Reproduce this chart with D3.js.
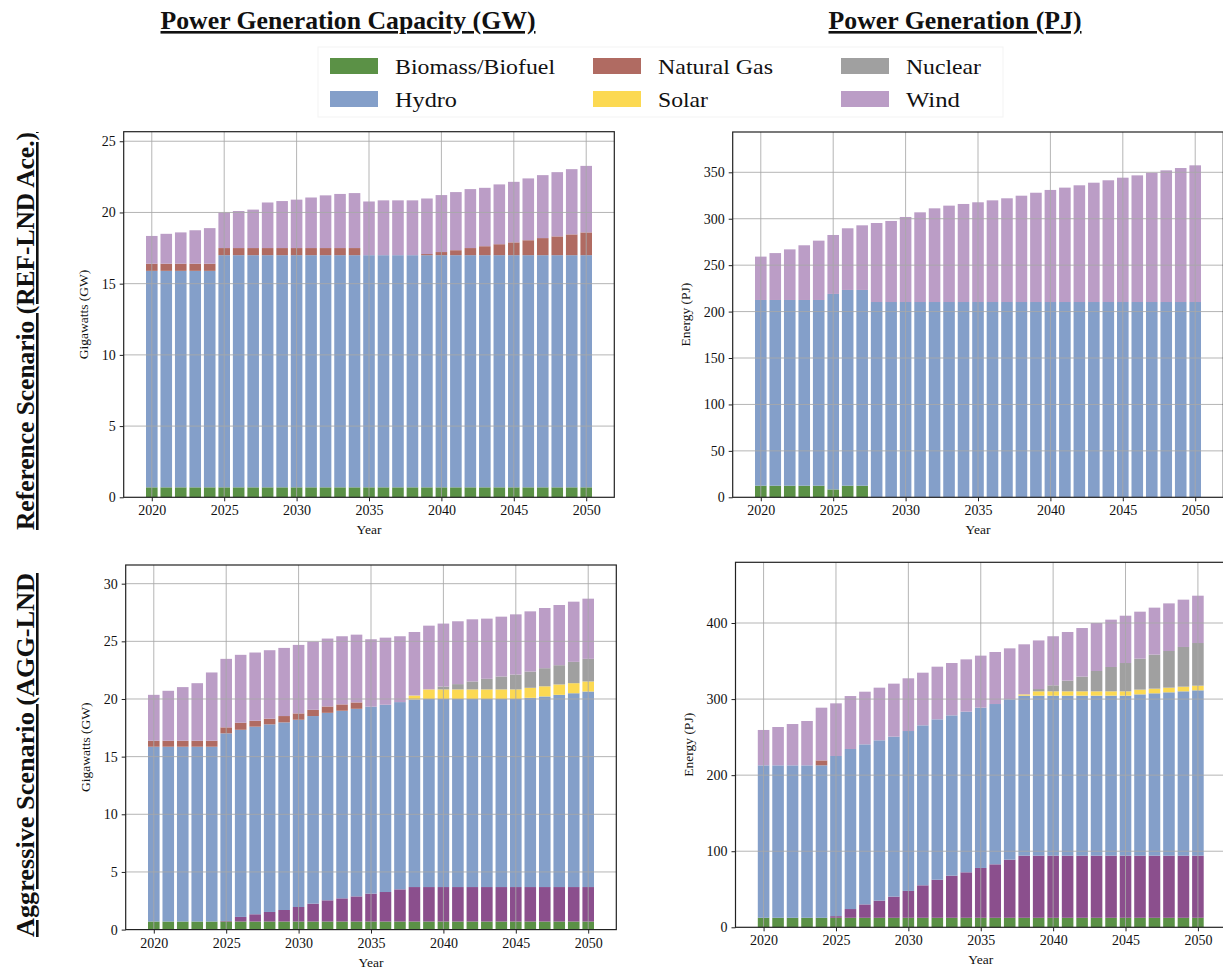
<!DOCTYPE html>
<html>
<head>
<meta charset="utf-8">
<script src="https://cdn.jsdelivr.net/npm/d3@7/dist/d3.min.js"></script>
<style>
  body { margin: 0; background: #fff; }
  svg text { font-family: "Liberation Serif", "Times New Roman", serif; fill: #111; }
  .tick text { font-size: 14px; }
  .axis path, .axis line { stroke: #222; }
  .grid line { stroke: #a9a9a9; stroke-width: 1; }
  .axisLabel { font-size: 13.5px; }
  .title { font-size: 26px; font-weight: bold; text-decoration: underline; }
  .legend-text { font-size: 22px; }
</style>
</head>
<body>
<div id="chart"></div>
<script>
// Stacked bars, 2 scenarios x (capacity GW, generation PJ), years 2020-2050

const years = d3.range(2020, 2051);
const seriesKeys = ["Biomass", "Other", "Hydro", "Gas", "Solar", "Nuclear", "Wind"];
const legendNames = ["Biomass/Biofuel", "Natural Gas", "Nuclear", "Hydro", "Solar", "Wind"];
const legendKeys  = ["Biomass", "Gas", "Nuclear", "Hydro", "Solar", "Wind"];
const colors = {
  Biomass: "#5b9146", Other: "#8b4f8d", Hydro: "#849fc9", Gas: "#b06b62",
  Solar: "#fcd952", Nuclear: "#a0a0a0", Wind: "#bb9dc6"
};

const zeros = n => Array(n).fill(0);

// ---- Reference scenario, capacity (GW)
const refGW_biomass = Array(31).fill(0.7);
const refGW_other   = zeros(31);
const refGW_hydro   = [...Array(5).fill(15.2), ...Array(26).fill(16.3)];
const refGW_gas     = [0.5,0.5,0.5,0.5,0.5, 0.5,0.5,0.5,0.5,0.5,0.5,0.5,0.5,0.5,0.5,
                       0,0,0,0, 0.08,0.22,0.35,0.5,0.63,0.77,0.9,1.05,1.2,1.32,1.46,1.6];
const refGW_solar   = zeros(31);
const refGW_nuclear = zeros(31);
const refGW_wind    = [1.95,2.1,2.2,2.35,2.5, 2.5,2.6,2.7,3.2,3.3,3.4,3.55,3.7,3.8,3.86,
                       3.77,3.85,3.85,3.85, 3.9,4.0,4.08,4.14,4.1,4.2,4.25,4.34,4.42,4.51,4.58,4.67];

// ---- Reference scenario, generation (PJ)
const refPJ_biomass = [12.5,12.5,12.5,12.5,12.5, 8.5,12.5,12.5, ...zeros(23)];
const refPJ_other   = zeros(31);
const refPJ_hydro   = [200,200,200,200,200, 210.5,210.8,210.8, ...Array(23).fill(210.3)];
const refPJ_gas     = zeros(31);
const refPJ_solar   = zeros(31);
const refPJ_nuclear = zeros(31);
const refPJ_wind    = [46.7,50.5,54.5,58.9,63.9,63.5,66.4,69.6,85.1,87.3,91.6,96.6,100.9,103.8,105.6,
                       107.4,109.5,111.7,114.5,117.7,120.7,123.2,125.7,128.5,131.1,133.9,136.4,139.3,141.8,144.3,147.2];

// ---- Aggressive scenario, capacity (GW)
const aggGW_biomass = Array(31).fill(0.7);
const aggGW_other   = [0,0,0,0,0, 0.05,0.4,0.63,0.83,1.0,1.26,1.55,1.84,2.01,2.18,
                       2.42,2.56,2.79, ...Array(13).fill(2.99)];
const aggGW_hydro   = [15.16,15.16,15.16,15.16,15.16, 16.27,16.23,16.27,16.27,16.27,16.24,16.27,16.26,16.27,16.27,
                       16.21,16.24,16.24,16.27, 16.31,16.31,16.31,16.31,16.31,16.31,16.31,16.41,16.53,16.67,16.81,16.96];
const aggGW_gas     = [0.52,0.52,0.52,0.52,0.52, 0.52,0.61,0.51,0.49,0.55,0.55,0.54,0.55,0.55,0.55, ...zeros(16)];
const aggGW_solar   = [...zeros(18), 0.34, 0.83,0.83,0.83,0.83,0.83,0.83,0.83, 0.87,0.88,0.9,0.87,0.87];
const aggGW_nuclear = [...zeros(20), 0.25,0.46,0.69,0.92,1.12,1.29,1.41,1.57,1.67,1.85,1.96];
const aggGW_wind    = [3.98,4.33,4.65,4.99,5.92, 5.94,5.89,5.92,5.94,5.91,5.94,5.92,5.89,5.91,5.88,
                       5.85,5.82,5.71,5.51,5.53,5.46,5.45,5.39,5.22,5.19,5.22,5.22,5.22,5.22,5.22,5.22];

// ---- Aggressive scenario, generation (PJ)
const aggPJ_biomass = Array(31).fill(12.5);
const aggPJ_other   = [0,0,0,0,0, 2.2,11.5,17.6,22.5,27.8,35.3,42.7,50,55.4,59.8,
                       65.5,70.3,76.4, ...Array(13).fill(81.7)];
const aggPJ_hydro   = [200.4,200.4,200.4,200.4,200.4, 210.5,210.4,210.4,210.8,210.3,210.2,210.3,210.9,210.7,211.2,
                       210.7,210.7,210.8, 210.3,210.3,210.3,210.3,210.3,210.3,210.3,210.3, 212,213.4,214.7,216,217.3];
const aggPJ_gas     = [0,0,0,0,6.5, ...zeros(26)];
const aggPJ_solar   = [...zeros(18), 1.7, 5.7,5.7,5.7,5.7,5.7,5.7,5.7, 6.2,6.1,6.1,6.1,6.1];
const aggPJ_nuclear = [...zeros(19), 3,7.9,14,19.3,26.7,32,37.2,40.7,44.7,48.2,52.2,56.1];
const aggPJ_wind    = [46.5,50.4,54.3,58.3,69.3, 69.2,69.6,69.2,69.2,69.7,69.3,69.2,69.2,68.8,68.7,
                       68.4,68.4,67,65.8,63.9,64.5,64,63.9,63.1,62.2,62.2,61.8,61.8,62.6,62.2,62.2];

const yTicksGW_ref = [0, 5, 10, 15, 20, 25];
const yTicksPJ_ref = [0, 50, 100, 150, 200, 250, 300, 350];
const yTicksGW_agg = [0, 5, 10, 15, 20, 25, 30];
const yTicksPJ_agg = [0, 100, 200, 300, 400];
const xTicks = [2020, 2025, 2030, 2035, 2040, 2045, 2050];

function toRows(b, o, h, g, s, n, w) {
  return years.map((y, i) => ({
    year: y, Biomass: b[i], Other: o[i], Hydro: h[i], Gas: g[i], Solar: s[i], Nuclear: n[i], Wind: w[i]
  }));
}

const panels = [
  { rows: toRows(refGW_biomass, refGW_other, refGW_hydro, refGW_gas, refGW_solar, refGW_nuclear, refGW_wind),
    box: { left: 123.7, right: 614.3, top: 131.7, bottom: 497.3 }, yMax: 25.67,
    ticks: yTicksGW_ref, yLabel: "Gigawatts (GW)", labelOff: 36 },
  { rows: toRows(refPJ_biomass, refPJ_other, refPJ_hydro, refPJ_gas, refPJ_solar, refPJ_nuclear, refPJ_wind),
    box: { left: 732.7, right: 1223.3, top: 132, bottom: 497.3 }, yMax: 393.4,
    ticks: yTicksPJ_ref, yLabel: "Energy (PJ)", labelOff: 43 },
  { rows: toRows(aggGW_biomass, aggGW_other, aggGW_hydro, aggGW_gas, aggGW_solar, aggGW_nuclear, aggGW_wind),
    box: { left: 125.7, right: 616.3, top: 565, bottom: 929.6 }, yMax: 31.62,
    ticks: yTicksGW_agg, yLabel: "Gigawatts (GW)", labelOff: 36 },
  { rows: toRows(aggPJ_biomass, aggPJ_other, aggPJ_hydro, aggPJ_gas, aggPJ_solar, aggPJ_nuclear, aggPJ_wind),
    box: { left: 735.5, right: 1226, top: 562.3, bottom: 927.3 }, yMax: 479.8,
    ticks: yTicksPJ_agg, yLabel: "Energy (PJ)", labelOff: 43 }
];

const svg = d3.select("#chart").append("svg")
  .attr("width", 1223).attr("height", 970);

const stack = d3.stack().keys(seriesKeys);

panels.forEach(p => {
  const b = p.box;
  const x = d3.scaleLinear().domain([2018.06, 2051.94]).range([b.left, b.right]);
  const y = d3.scaleLinear().domain([0, p.yMax]).range([b.bottom, b.top]);
  const g = svg.append("g");

  // bars
  const layers = stack(p.rows);
  g.selectAll("g.layer").data(layers).join("g")
    .attr("class", "layer")
    .attr("fill", d => colors[d.key])
    .selectAll("rect").data(d => d.filter(v => v[1] - v[0] > 0)).join("rect")
    .attr("x", d => x(d.data.year - 0.4))
    .attr("width", d => x(d.data.year + 0.4) - x(d.data.year - 0.4))
    .attr("y", d => y(d[1]))
    .attr("height", d => y(d[0]) - y(d[1]));

  // grid on top (bars in the original are translucent)
  const grid = g.append("g").attr("class", "grid");
  grid.selectAll("line.h").data(p.ticks).join("line").attr("class", "h")
    .attr("x1", b.left).attr("x2", b.right)
    .attr("y1", d => y(d)).attr("y2", d => y(d))
    .style("opacity", d => d === 0 ? 0 : 0.85);
  grid.selectAll("line.v").data(xTicks).join("line").attr("class", "v")
    .attr("x1", d => x(d)).attr("x2", d => x(d))
    .attr("y1", b.top).attr("y2", b.bottom)
    .style("opacity", 0.85);

  // axes
  g.append("g").attr("class", "axis")
    .attr("transform", `translate(0,${b.bottom})`)
    .call(d3.axisBottom(x).tickValues(xTicks).tickFormat(d3.format("d")).tickSizeOuter(0).tickSize(4).tickPadding(4))
    .call(a => a.select(".domain").remove());
  g.append("g").attr("class", "axis")
    .attr("transform", `translate(${b.left},0)`)
    .call(d3.axisLeft(y).tickValues(p.ticks).tickFormat(d3.format("d")).tickSizeOuter(0).tickSize(4).tickPadding(4))
    .call(a => a.select(".domain").remove());
  g.selectAll(".tick text").style("font-family", "'Liberation Serif', serif").style("font-size", "14px");

  // frame
  g.append("rect")
    .attr("x", b.left).attr("y", b.top)
    .attr("width", b.right - b.left).attr("height", b.bottom - b.top)
    .attr("fill", "none").attr("stroke", "#222").attr("stroke-width", 1.2);

  g.append("text").attr("class", "axisLabel")
    .attr("x", (b.left + b.right) / 2).attr("y", b.bottom + 37)
    .attr("text-anchor", "middle").text("Year");
  g.append("text").attr("class", "axisLabel")
    .attr("transform", `translate(${b.left - p.labelOff},${(b.top + b.bottom) / 2}) rotate(-90)`)
    .attr("text-anchor", "middle").text(p.yLabel);
});

// column titles
svg.append("text").attr("class", "title")
  .attr("x", 348).attr("y", 29).attr("text-anchor", "middle")
  .attr("textLength", 375).attr("lengthAdjust", "spacingAndGlyphs")
  .text("Power Generation Capacity (GW)");
svg.append("text").attr("class", "title")
  .attr("x", 955).attr("y", 29).attr("text-anchor", "middle")
  .attr("textLength", 253).attr("lengthAdjust", "spacingAndGlyphs")
  .text("Power Generation (PJ)");

// row titles
svg.append("text").attr("class", "title")
  .attr("transform", "translate(34,331) rotate(-90)").attr("text-anchor", "middle")
  .attr("textLength", 398).attr("lengthAdjust", "spacingAndGlyphs")
  .text("Reference Scenario (REF-LND Ace.)");
svg.append("text").attr("class", "title")
  .attr("transform", "translate(34,755) rotate(-90)").attr("text-anchor", "middle")
  .attr("textLength", 364).attr("lengthAdjust", "spacingAndGlyphs")
  .text("Aggressive Scenario (AGG-LND");

// legend
const legend = svg.append("g");
legend.append("rect")
  .attr("x", 318).attr("y", 47).attr("width", 685).attr("height", 70)
  .attr("fill", "#fff").attr("stroke", "#f3f3f3");
const colX = [330, 593, 841];
const rowY = [66, 99];
const legendLen = [160, 115, 75, 62, 50, 54];
legendKeys.forEach((k, i) => {
  const col = i % 3, row = Math.floor(i / 3);
  legend.append("rect")
    .attr("x", colX[col]).attr("y", rowY[row] - 8)
    .attr("width", 48).attr("height", 16)
    .attr("fill", colors[k]);
  legend.append("text").attr("class", "legend-text")
    .attr("x", colX[col] + 65).attr("y", rowY[row] + 8)
    .attr("textLength", legendLen[i]).attr("lengthAdjust", "spacingAndGlyphs")
    .text(legendNames[i]);
});
</script>
</body>
</html>
